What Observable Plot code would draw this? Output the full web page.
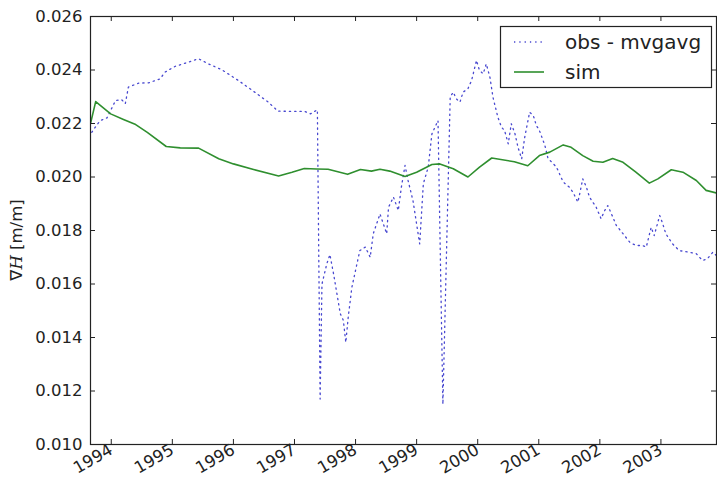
<!DOCTYPE html>
<html><head><meta charset="utf-8">
<script src="https://cdn.jsdelivr.net/npm/d3@7"></script>
<script src="https://cdn.jsdelivr.net/npm/@observablehq/plot@0.6"></script>
<style>
body{margin:0;background:#fff;}
#chart{width:717px;height:481px;}
</style></head><body><div id="chart"></div>
<script>
// ---- data (decimal years) ----
const simYear = [1993.66,1993.745,1993.99,1994.20,1994.40,1994.59,1994.90,1995.13,1995.43,1995.76,1996.00,1996.33,1996.74,1996.96,1997.16,1997.36,1997.55,1997.87,1998.08,1998.26,1998.40,1998.56,1998.81,1999.00,1999.25,1999.38,1999.60,1999.84,2000.03,2000.23,2000.60,2000.82,2001.01,2001.18,2001.40,2001.53,2001.72,2001.89,2002.05,2002.21,2002.38,2002.59,2002.81,2002.95,2003.17,2003.36,2003.58,2003.74,2003.91];
const simValue = [0.02200,0.02282,0.02236,0.02215,0.02196,0.02167,0.02114,0.02109,0.02108,0.02068,0.02049,0.02028,0.02004,0.02018,0.02032,0.02030,0.02029,0.02010,0.02028,0.02022,0.02029,0.02022,0.02002,0.02018,0.02047,0.02049,0.02031,0.02000,0.02037,0.02071,0.02057,0.02042,0.02080,0.02093,0.02120,0.02111,0.02080,0.02059,0.02055,0.02069,0.02055,0.02018,0.01977,0.01993,0.02027,0.02018,0.01987,0.01950,0.01940];

const obsYear = [1993.68,1993.76,1993.82,1993.93,1994.07,1994.17,1994.23,1994.28,1994.45,1994.61,1994.80,1994.88,1995.05,1995.26,1995.43,1995.59,1995.81,1996.08,1996.35,1996.57,1996.73,1997.17,1997.26,1997.375,1997.42,1997.45,1997.53,1997.58,1997.64,1997.75,1997.80,1997.84,1997.88,1997.94,1998.07,1998.16,1998.24,1998.29,1998.40,1998.51,1998.54,1998.62,1998.70,1998.75,1998.81,1998.86,1998.94,1999.05,1999.11,1999.19,1999.25,1999.30,1999.35,1999.43,1999.55,1999.60,1999.65,1999.71,1999.76,1999.84,1999.90,1999.98,2000.03,2000.09,2000.14,2000.20,2000.25,2000.33,2000.39,2000.44,2000.50,2000.55,2000.61,2000.66,2000.72,2000.77,2000.85,2000.91,2000.96,2001.01,2001.10,2001.15,2001.29,2001.40,2001.50,2001.56,2001.64,2001.67,2001.72,2001.78,2001.83,2001.94,2002.02,2002.08,2002.13,2002.19,2002.27,2002.38,2002.49,2002.59,2002.70,2002.76,2002.84,2002.89,2002.98,2003.03,2003.08,2003.19,2003.30,2003.46,2003.58,2003.68,2003.76,2003.85,2003.91];
const obsValue = [0.02167,0.02193,0.02211,0.02221,0.02286,0.02289,0.02274,0.02336,0.02351,0.02352,0.02367,0.02392,0.02414,0.02429,0.02442,0.02423,0.02401,0.02361,0.02317,0.02280,0.02246,0.02245,0.02236,0.02251,0.01170,0.01600,0.01676,0.01710,0.01638,0.01489,0.01464,0.01382,0.01476,0.01588,0.01725,0.01738,0.01700,0.01788,0.01862,0.01788,0.01887,0.01925,0.01875,0.01962,0.02043,0.01987,0.01912,0.01750,0.01975,0.02037,0.02161,0.02186,0.02211,0.01150,0.02300,0.02317,0.02292,0.02280,0.02317,0.02330,0.02361,0.02436,0.02398,0.02386,0.02423,0.02373,0.02298,0.02224,0.02186,0.02174,0.02124,0.02199,0.02162,0.02111,0.02068,0.02149,0.02242,0.02230,0.02193,0.02174,0.02118,0.02070,0.02037,0.01981,0.01962,0.01943,0.01906,0.01937,0.01993,0.01962,0.01925,0.01887,0.01844,0.01875,0.01893,0.01862,0.01819,0.01788,0.01756,0.01744,0.01744,0.01738,0.01812,0.01781,0.01856,0.01825,0.01788,0.01750,0.01725,0.01719,0.01713,0.01688,0.01694,0.01719,0.01706];

const xTickYears = [1994,1995,1996,1997,1998,1999,2000,2001,2002,2003];
const yTickValues = [0.010,0.012,0.014,0.016,0.018,0.020,0.022,0.024,0.026];
const seriesLabels = ["obs - mvgavg", "sim"];
const xDomain = [1993.66, 2003.91];
const yDomain = [0.010, 0.026];

// ---- styles ----
const obsColor = "#4848d0";
const simColor = "#2f8f2f";
const axisColor = "#222";
const dotDash = "1.3,4";

const sim = simYear.map((x, i) => ({x, y: simValue[i]}));
const obs = obsYear.map((x, i) => ({x, y: obsValue[i]}));

const W = 717, H = 481, mL = 90, mR = 1, mT = 16, mB = 37;
const tickPx = 5;
const tickLenY = tickPx * (yDomain[1] - yDomain[0]) / (H - mT - mB);
const tickLenX = tickPx * (xDomain[1] - xDomain[0]) / (W - mL - mR);

const svg = Plot.plot({
  width: W, height: H,
  marginLeft: mL, marginRight: mR, marginTop: mT, marginBottom: mB,
  style: {fontFamily: "DejaVu Sans", color: axisColor, background: "#fff"},
  x: {domain: xDomain},
  y: {domain: yDomain},
  marks: [
    Plot.axisY(yTickValues, {tickSize: 0, tickPadding: 8, tickFormat: d3.format(".3f"), fontSize: 16.5, label: null}),
    Plot.axisX(xTickYears, {tickSize: 0, tickPadding: 4, tickRotate: -30, textAnchor: "end", tickFormat: d => String(d), fontSize: 16.5, label: null}),
    Plot.line(obs, {x: "x", y: "y", stroke: obsColor, strokeWidth: 1.3, strokeDasharray: dotDash, clip: true}),
    Plot.line(sim, {x: "x", y: "y", stroke: simColor, strokeWidth: 1.6, clip: true}),
    Plot.ruleX(xTickYears, {x: d => d, y1: yDomain[0], y2: yDomain[0] + tickLenY, stroke: axisColor}),
    Plot.ruleX(xTickYears, {x: d => d, y1: yDomain[1] - tickLenY, y2: yDomain[1], stroke: axisColor}),
    Plot.ruleY(yTickValues, {y: d => d, x1: xDomain[0], x2: xDomain[0] + tickLenX, stroke: axisColor}),
    Plot.ruleY(yTickValues, {y: d => d, x1: xDomain[1] - tickLenX, x2: xDomain[1], stroke: axisColor}),
    Plot.frame({stroke: axisColor, strokeWidth: 1.2})
  ]
});
document.getElementById("chart").appendChild(svg);

const s = d3.select(svg);
// y axis label
const yl = s.append("text")
  .attr("transform", `translate(22,240) rotate(-90)`)
  .attr("text-anchor", "middle")
  .attr("font-size", 16.5)
  .attr("fill", axisColor);
yl.append("tspan").text("∇");
yl.append("tspan").attr("font-style", "italic").attr("font-family", "DejaVu Serif").text("H");
yl.append("tspan").text(" [m/m]");

// legend
const lg = s.append("g");
lg.append("rect").attr("x", 500.5).attr("y", 26.5).attr("width", 211).attr("height", 61)
  .attr("fill", "#fff").attr("stroke", axisColor).attr("stroke-width", 1.2);
const rows = [
  {label: seriesLabels[0], color: obsColor, dash: dotDash, w: 1.3, y: 42},
  {label: seriesLabels[1], color: simColor, dash: null, w: 1.6, y: 72}
];
for (const r of rows) {
  lg.append("line").attr("x1", 514).attr("x2", 544).attr("y1", r.y).attr("y2", r.y)
    .attr("stroke", r.color).attr("stroke-width", r.w).attr("stroke-dasharray", r.dash);
  lg.append("text").attr("x", 565).attr("y", r.y).attr("dy", "0.35em")
    .attr("text-anchor", "start")
    .attr("font-size", 20).attr("fill", axisColor).text(r.label);
}
</script></body></html>
